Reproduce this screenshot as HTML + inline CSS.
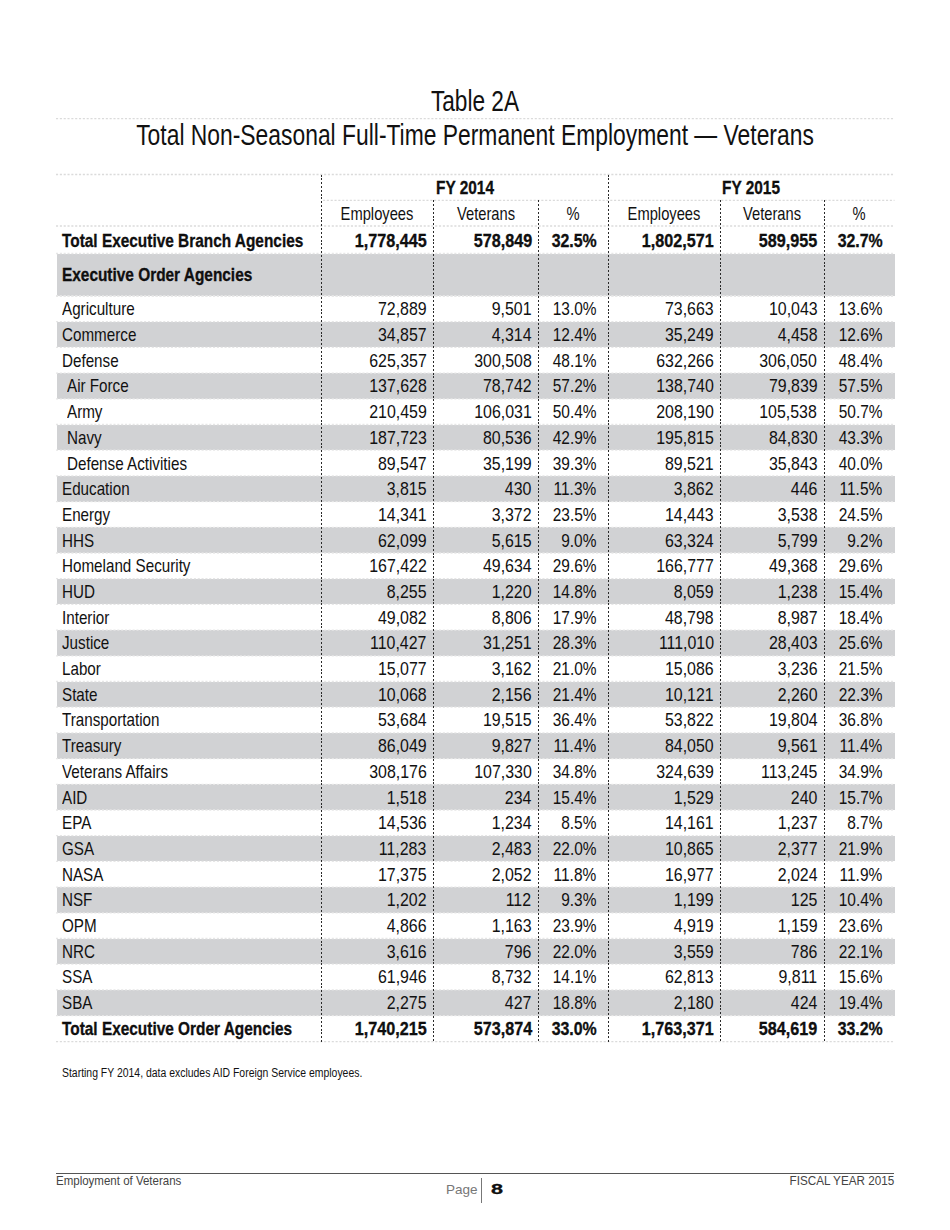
<!DOCTYPE html>
<html><head><meta charset="utf-8"><title>Table 2A</title>
<style>
html,body{margin:0;padding:0;background:#fff;}
body{width:950px;height:1230px;position:relative;overflow:hidden;font-family:"Liberation Sans",sans-serif;color:#111;}
svg{position:absolute;left:0;top:0;}
.t{position:absolute;white-space:nowrap;}
</style></head><body>
<svg width="950" height="1230" viewBox="0 0 950 1230" shape-rendering="crispEdges">
<rect x="56.8" y="253.5" width="837.7" height="42.5" fill="#d1d2d4"/>
<rect x="56.8" y="321.7" width="837.7" height="25.69999999999999" fill="#d1d2d4"/>
<rect x="56.8" y="373.1" width="837.7" height="25.69999999999999" fill="#d1d2d4"/>
<rect x="56.8" y="424.5" width="837.7" height="25.69999999999999" fill="#d1d2d4"/>
<rect x="56.8" y="475.9" width="837.7" height="25.69999999999999" fill="#d1d2d4"/>
<rect x="56.8" y="527.3" width="837.7" height="25.700000000000045" fill="#d1d2d4"/>
<rect x="56.8" y="578.7" width="837.7" height="25.700000000000045" fill="#d1d2d4"/>
<rect x="56.8" y="630.0999999999999" width="837.7" height="25.700000000000045" fill="#d1d2d4"/>
<rect x="56.8" y="681.5" width="837.7" height="25.700000000000045" fill="#d1d2d4"/>
<rect x="56.8" y="732.9" width="837.7" height="25.700000000000045" fill="#d1d2d4"/>
<rect x="56.8" y="784.3" width="837.7" height="25.700000000000045" fill="#d1d2d4"/>
<rect x="56.8" y="835.6999999999999" width="837.7" height="25.700000000000045" fill="#d1d2d4"/>
<rect x="56.8" y="887.1" width="837.7" height="25.700000000000045" fill="#d1d2d4"/>
<rect x="56.8" y="938.5" width="837.7" height="25.700000000000045" fill="#d1d2d4"/>
<rect x="56.8" y="989.9" width="837.7" height="25.700000000000045" fill="#d1d2d4"/>
<line x1="56.0" y1="118.7" x2="894.5" y2="118.7" stroke="#dbdbdb" stroke-width="1.3" stroke-dasharray="2.1 1.73" shape-rendering="geometricPrecision"/>
<line x1="56.0" y1="174.5" x2="894.5" y2="174.5" stroke="#dbdbdb" stroke-width="1.3" stroke-dasharray="2.1 1.73" shape-rendering="geometricPrecision"/>
<line x1="323.0" y1="200.3" x2="894.5" y2="200.3" stroke="#dbdbdb" stroke-width="1.3" stroke-dasharray="2.1 1.73" shape-rendering="geometricPrecision"/>
<line x1="56.0" y1="226.0" x2="894.5" y2="226.0" stroke="#dbdbdb" stroke-width="1.3" stroke-dasharray="2.1 1.73" shape-rendering="geometricPrecision"/>
<line x1="56.0" y1="253.5" x2="894.5" y2="253.5" stroke="#e6e6e6" stroke-width="1.3" stroke-dasharray="2.1 1.73" shape-rendering="geometricPrecision"/>
<line x1="56.0" y1="296.0" x2="894.5" y2="296.0" stroke="#e6e6e6" stroke-width="1.3" stroke-dasharray="2.1 1.73" shape-rendering="geometricPrecision"/>
<line x1="56.0" y1="296.0" x2="894.5" y2="296.0" stroke="#e6e6e6" stroke-width="1.3" stroke-dasharray="2.1 1.73" shape-rendering="geometricPrecision"/>
<line x1="56.0" y1="321.7" x2="894.5" y2="321.7" stroke="#e6e6e6" stroke-width="1.3" stroke-dasharray="2.1 1.73" shape-rendering="geometricPrecision"/>
<line x1="56.0" y1="347.4" x2="894.5" y2="347.4" stroke="#e6e6e6" stroke-width="1.3" stroke-dasharray="2.1 1.73" shape-rendering="geometricPrecision"/>
<line x1="56.0" y1="373.1" x2="894.5" y2="373.1" stroke="#e6e6e6" stroke-width="1.3" stroke-dasharray="2.1 1.73" shape-rendering="geometricPrecision"/>
<line x1="56.0" y1="398.8" x2="894.5" y2="398.8" stroke="#e6e6e6" stroke-width="1.3" stroke-dasharray="2.1 1.73" shape-rendering="geometricPrecision"/>
<line x1="56.0" y1="424.5" x2="894.5" y2="424.5" stroke="#e6e6e6" stroke-width="1.3" stroke-dasharray="2.1 1.73" shape-rendering="geometricPrecision"/>
<line x1="56.0" y1="450.2" x2="894.5" y2="450.2" stroke="#e6e6e6" stroke-width="1.3" stroke-dasharray="2.1 1.73" shape-rendering="geometricPrecision"/>
<line x1="56.0" y1="475.9" x2="894.5" y2="475.9" stroke="#e6e6e6" stroke-width="1.3" stroke-dasharray="2.1 1.73" shape-rendering="geometricPrecision"/>
<line x1="56.0" y1="501.6" x2="894.5" y2="501.6" stroke="#e6e6e6" stroke-width="1.3" stroke-dasharray="2.1 1.73" shape-rendering="geometricPrecision"/>
<line x1="56.0" y1="527.3" x2="894.5" y2="527.3" stroke="#e6e6e6" stroke-width="1.3" stroke-dasharray="2.1 1.73" shape-rendering="geometricPrecision"/>
<line x1="56.0" y1="553.0" x2="894.5" y2="553.0" stroke="#e6e6e6" stroke-width="1.3" stroke-dasharray="2.1 1.73" shape-rendering="geometricPrecision"/>
<line x1="56.0" y1="578.7" x2="894.5" y2="578.7" stroke="#e6e6e6" stroke-width="1.3" stroke-dasharray="2.1 1.73" shape-rendering="geometricPrecision"/>
<line x1="56.0" y1="604.4" x2="894.5" y2="604.4" stroke="#e6e6e6" stroke-width="1.3" stroke-dasharray="2.1 1.73" shape-rendering="geometricPrecision"/>
<line x1="56.0" y1="630.0999999999999" x2="894.5" y2="630.0999999999999" stroke="#e6e6e6" stroke-width="1.3" stroke-dasharray="2.1 1.73" shape-rendering="geometricPrecision"/>
<line x1="56.0" y1="655.8" x2="894.5" y2="655.8" stroke="#e6e6e6" stroke-width="1.3" stroke-dasharray="2.1 1.73" shape-rendering="geometricPrecision"/>
<line x1="56.0" y1="681.5" x2="894.5" y2="681.5" stroke="#e6e6e6" stroke-width="1.3" stroke-dasharray="2.1 1.73" shape-rendering="geometricPrecision"/>
<line x1="56.0" y1="707.2" x2="894.5" y2="707.2" stroke="#e6e6e6" stroke-width="1.3" stroke-dasharray="2.1 1.73" shape-rendering="geometricPrecision"/>
<line x1="56.0" y1="732.9" x2="894.5" y2="732.9" stroke="#e6e6e6" stroke-width="1.3" stroke-dasharray="2.1 1.73" shape-rendering="geometricPrecision"/>
<line x1="56.0" y1="758.5999999999999" x2="894.5" y2="758.5999999999999" stroke="#e6e6e6" stroke-width="1.3" stroke-dasharray="2.1 1.73" shape-rendering="geometricPrecision"/>
<line x1="56.0" y1="784.3" x2="894.5" y2="784.3" stroke="#e6e6e6" stroke-width="1.3" stroke-dasharray="2.1 1.73" shape-rendering="geometricPrecision"/>
<line x1="56.0" y1="810.0" x2="894.5" y2="810.0" stroke="#e6e6e6" stroke-width="1.3" stroke-dasharray="2.1 1.73" shape-rendering="geometricPrecision"/>
<line x1="56.0" y1="835.6999999999999" x2="894.5" y2="835.6999999999999" stroke="#e6e6e6" stroke-width="1.3" stroke-dasharray="2.1 1.73" shape-rendering="geometricPrecision"/>
<line x1="56.0" y1="861.4" x2="894.5" y2="861.4" stroke="#e6e6e6" stroke-width="1.3" stroke-dasharray="2.1 1.73" shape-rendering="geometricPrecision"/>
<line x1="56.0" y1="887.1" x2="894.5" y2="887.1" stroke="#e6e6e6" stroke-width="1.3" stroke-dasharray="2.1 1.73" shape-rendering="geometricPrecision"/>
<line x1="56.0" y1="912.8" x2="894.5" y2="912.8" stroke="#e6e6e6" stroke-width="1.3" stroke-dasharray="2.1 1.73" shape-rendering="geometricPrecision"/>
<line x1="56.0" y1="938.5" x2="894.5" y2="938.5" stroke="#e6e6e6" stroke-width="1.3" stroke-dasharray="2.1 1.73" shape-rendering="geometricPrecision"/>
<line x1="56.0" y1="964.1999999999999" x2="894.5" y2="964.1999999999999" stroke="#e6e6e6" stroke-width="1.3" stroke-dasharray="2.1 1.73" shape-rendering="geometricPrecision"/>
<line x1="56.0" y1="989.9" x2="894.5" y2="989.9" stroke="#e6e6e6" stroke-width="1.3" stroke-dasharray="2.1 1.73" shape-rendering="geometricPrecision"/>
<line x1="56.0" y1="1015.6" x2="894.5" y2="1015.6" stroke="#e6e6e6" stroke-width="1.3" stroke-dasharray="2.1 1.73" shape-rendering="geometricPrecision"/>
<line x1="56.0" y1="1041.7" x2="894.5" y2="1041.7" stroke="#dbdbdb" stroke-width="1.3" stroke-dasharray="2.1 1.73" shape-rendering="geometricPrecision"/>
<line x1="321.5" y1="174.5" x2="321.5" y2="1041.7" stroke="#2a2a2a" stroke-width="1.0" stroke-dasharray="2 1.83"/>
<line x1="433.4" y1="200.3" x2="433.4" y2="1041.7" stroke="#2a2a2a" stroke-width="1.0" stroke-dasharray="2 1.83"/>
<line x1="538.4" y1="200.3" x2="538.4" y2="1041.7" stroke="#2a2a2a" stroke-width="1.0" stroke-dasharray="2 1.83"/>
<line x1="608.4" y1="174.5" x2="608.4" y2="1041.7" stroke="#2a2a2a" stroke-width="1.0" stroke-dasharray="2 1.83"/>
<line x1="720.2" y1="200.3" x2="720.2" y2="1041.7" stroke="#2a2a2a" stroke-width="1.0" stroke-dasharray="2 1.83"/>
<line x1="824.4" y1="200.3" x2="824.4" y2="1041.7" stroke="#2a2a2a" stroke-width="1.0" stroke-dasharray="2 1.83"/>
<line x1="56.0" y1="1173.5" x2="893.8" y2="1173.5" stroke="#555" stroke-width="1"/>
<line x1="481.6" y1="1178" x2="481.6" y2="1202.5" stroke="#777" stroke-width="1"/>
</svg>
<div class="t" style="top:85px;font-size:28.8px;line-height:32px;left:475.35px;transform-origin:0 0;transform:scaleX(0.787) translateX(-50%);">Table 2A</div>
<div class="t" style="top:118px;font-size:30.0px;line-height:33px;left:475.00px;transform-origin:0 0;transform:scaleX(0.762) translateX(-50%);">Total Non-Seasonal Full-Time Permanent Employment — Veterans</div>
<div class="t" style="top:177px;font-size:18.6px;line-height:21px;font-weight:bold;-webkit-text-stroke:0.3px #000;left:464.95px;transform-origin:0 0;transform:scaleX(0.828) translateX(-50%);">FY 2014</div>
<div class="t" style="top:177px;font-size:18.6px;line-height:21px;font-weight:bold;-webkit-text-stroke:0.3px #000;left:751.45px;transform-origin:0 0;transform:scaleX(0.828) translateX(-50%);">FY 2015</div>
<div class="t" style="top:203px;font-size:18.4px;line-height:21px;left:377.45px;transform-origin:0 0;transform:scaleX(0.8) translateX(-50%);">Employees</div>
<div class="t" style="top:203px;font-size:18.4px;line-height:21px;left:485.90px;transform-origin:0 0;transform:scaleX(0.8) translateX(-50%);">Veterans</div>
<div class="t" style="top:203px;font-size:18.4px;line-height:21px;left:573.40px;transform-origin:0 0;transform:scaleX(0.8) translateX(-50%);">%</div>
<div class="t" style="top:203px;font-size:18.4px;line-height:21px;left:664.30px;transform-origin:0 0;transform:scaleX(0.8) translateX(-50%);">Employees</div>
<div class="t" style="top:203px;font-size:18.4px;line-height:21px;left:772.30px;transform-origin:0 0;transform:scaleX(0.8) translateX(-50%);">Veterans</div>
<div class="t" style="top:203px;font-size:18.4px;line-height:21px;left:859.45px;transform-origin:0 0;transform:scaleX(0.8) translateX(-50%);">%</div>
<div class="t" style="top:230px;font-size:18.6px;line-height:21px;font-weight:bold;-webkit-text-stroke:0.3px #000;left:62.00px;transform-origin:0 0;transform:scaleX(0.828);">Total Executive Branch Agencies</div>
<div class="t" style="top:230px;font-size:18.6px;line-height:21px;font-weight:bold;-webkit-text-stroke:0.3px #000;right:523.70px;transform-origin:100% 0;transform:scaleX(0.87);">1,778,445</div>
<div class="t" style="top:230px;font-size:18.6px;line-height:21px;font-weight:bold;-webkit-text-stroke:0.3px #000;right:417.60px;transform-origin:100% 0;transform:scaleX(0.87);">578,849</div>
<div class="t" style="top:230px;font-size:18.6px;line-height:21px;font-weight:bold;-webkit-text-stroke:0.3px #000;right:353.40px;transform-origin:100% 0;transform:scaleX(0.855);">32.5%</div>
<div class="t" style="top:230px;font-size:18.6px;line-height:21px;font-weight:bold;-webkit-text-stroke:0.3px #000;right:236.20px;transform-origin:100% 0;transform:scaleX(0.87);">1,802,571</div>
<div class="t" style="top:230px;font-size:18.6px;line-height:21px;font-weight:bold;-webkit-text-stroke:0.3px #000;right:132.30px;transform-origin:100% 0;transform:scaleX(0.87);">589,955</div>
<div class="t" style="top:230px;font-size:18.6px;line-height:21px;font-weight:bold;-webkit-text-stroke:0.3px #000;right:67.40px;transform-origin:100% 0;transform:scaleX(0.855);">32.7%</div>
<div class="t" style="top:264px;font-size:18.6px;line-height:21px;font-weight:bold;-webkit-text-stroke:0.3px #000;left:62.00px;transform-origin:0 0;transform:scaleX(0.828);">Executive Order Agencies</div>
<div class="t" style="top:299px;font-size:18.2px;line-height:20px;left:62.00px;transform-origin:0 0;transform:scaleX(0.836);">Agriculture</div>
<div class="t" style="top:299px;font-size:18.2px;line-height:20px;right:523.70px;transform-origin:100% 0;transform:scaleX(0.875);">72,889</div>
<div class="t" style="top:299px;font-size:18.2px;line-height:20px;right:418.70px;transform-origin:100% 0;transform:scaleX(0.875);">9,501</div>
<div class="t" style="top:299px;font-size:18.2px;line-height:20px;right:353.40px;transform-origin:100% 0;transform:scaleX(0.85);">13.0%</div>
<div class="t" style="top:299px;font-size:18.2px;line-height:20px;right:236.20px;transform-origin:100% 0;transform:scaleX(0.875);">73,663</div>
<div class="t" style="top:299px;font-size:18.2px;line-height:20px;right:132.80px;transform-origin:100% 0;transform:scaleX(0.875);">10,043</div>
<div class="t" style="top:299px;font-size:18.2px;line-height:20px;right:67.40px;transform-origin:100% 0;transform:scaleX(0.85);">13.6%</div>
<div class="t" style="top:325px;font-size:18.2px;line-height:20px;left:62.00px;transform-origin:0 0;transform:scaleX(0.836);">Commerce</div>
<div class="t" style="top:325px;font-size:18.2px;line-height:20px;right:523.70px;transform-origin:100% 0;transform:scaleX(0.875);">34,857</div>
<div class="t" style="top:325px;font-size:18.2px;line-height:20px;right:418.70px;transform-origin:100% 0;transform:scaleX(0.875);">4,314</div>
<div class="t" style="top:325px;font-size:18.2px;line-height:20px;right:353.40px;transform-origin:100% 0;transform:scaleX(0.85);">12.4%</div>
<div class="t" style="top:325px;font-size:18.2px;line-height:20px;right:236.20px;transform-origin:100% 0;transform:scaleX(0.875);">35,249</div>
<div class="t" style="top:325px;font-size:18.2px;line-height:20px;right:132.80px;transform-origin:100% 0;transform:scaleX(0.875);">4,458</div>
<div class="t" style="top:325px;font-size:18.2px;line-height:20px;right:67.40px;transform-origin:100% 0;transform:scaleX(0.85);">12.6%</div>
<div class="t" style="top:351px;font-size:18.2px;line-height:20px;left:62.00px;transform-origin:0 0;transform:scaleX(0.836);">Defense</div>
<div class="t" style="top:351px;font-size:18.2px;line-height:20px;right:523.70px;transform-origin:100% 0;transform:scaleX(0.875);">625,357</div>
<div class="t" style="top:351px;font-size:18.2px;line-height:20px;right:418.70px;transform-origin:100% 0;transform:scaleX(0.875);">300,508</div>
<div class="t" style="top:351px;font-size:18.2px;line-height:20px;right:353.40px;transform-origin:100% 0;transform:scaleX(0.85);">48.1%</div>
<div class="t" style="top:351px;font-size:18.2px;line-height:20px;right:236.20px;transform-origin:100% 0;transform:scaleX(0.875);">632,266</div>
<div class="t" style="top:351px;font-size:18.2px;line-height:20px;right:132.80px;transform-origin:100% 0;transform:scaleX(0.875);">306,050</div>
<div class="t" style="top:351px;font-size:18.2px;line-height:20px;right:67.40px;transform-origin:100% 0;transform:scaleX(0.85);">48.4%</div>
<div class="t" style="top:376px;font-size:18.2px;line-height:20px;left:66.50px;transform-origin:0 0;transform:scaleX(0.836);">Air Force</div>
<div class="t" style="top:376px;font-size:18.2px;line-height:20px;right:523.70px;transform-origin:100% 0;transform:scaleX(0.875);">137,628</div>
<div class="t" style="top:376px;font-size:18.2px;line-height:20px;right:418.70px;transform-origin:100% 0;transform:scaleX(0.875);">78,742</div>
<div class="t" style="top:376px;font-size:18.2px;line-height:20px;right:353.40px;transform-origin:100% 0;transform:scaleX(0.85);">57.2%</div>
<div class="t" style="top:376px;font-size:18.2px;line-height:20px;right:236.20px;transform-origin:100% 0;transform:scaleX(0.875);">138,740</div>
<div class="t" style="top:376px;font-size:18.2px;line-height:20px;right:132.80px;transform-origin:100% 0;transform:scaleX(0.875);">79,839</div>
<div class="t" style="top:376px;font-size:18.2px;line-height:20px;right:67.40px;transform-origin:100% 0;transform:scaleX(0.85);">57.5%</div>
<div class="t" style="top:402px;font-size:18.2px;line-height:20px;left:66.50px;transform-origin:0 0;transform:scaleX(0.836);">Army</div>
<div class="t" style="top:402px;font-size:18.2px;line-height:20px;right:523.70px;transform-origin:100% 0;transform:scaleX(0.875);">210,459</div>
<div class="t" style="top:402px;font-size:18.2px;line-height:20px;right:418.70px;transform-origin:100% 0;transform:scaleX(0.875);">106,031</div>
<div class="t" style="top:402px;font-size:18.2px;line-height:20px;right:353.40px;transform-origin:100% 0;transform:scaleX(0.85);">50.4%</div>
<div class="t" style="top:402px;font-size:18.2px;line-height:20px;right:236.20px;transform-origin:100% 0;transform:scaleX(0.875);">208,190</div>
<div class="t" style="top:402px;font-size:18.2px;line-height:20px;right:132.80px;transform-origin:100% 0;transform:scaleX(0.875);">105,538</div>
<div class="t" style="top:402px;font-size:18.2px;line-height:20px;right:67.40px;transform-origin:100% 0;transform:scaleX(0.85);">50.7%</div>
<div class="t" style="top:428px;font-size:18.2px;line-height:20px;left:66.50px;transform-origin:0 0;transform:scaleX(0.836);">Navy</div>
<div class="t" style="top:428px;font-size:18.2px;line-height:20px;right:523.70px;transform-origin:100% 0;transform:scaleX(0.875);">187,723</div>
<div class="t" style="top:428px;font-size:18.2px;line-height:20px;right:418.70px;transform-origin:100% 0;transform:scaleX(0.875);">80,536</div>
<div class="t" style="top:428px;font-size:18.2px;line-height:20px;right:353.40px;transform-origin:100% 0;transform:scaleX(0.85);">42.9%</div>
<div class="t" style="top:428px;font-size:18.2px;line-height:20px;right:236.20px;transform-origin:100% 0;transform:scaleX(0.875);">195,815</div>
<div class="t" style="top:428px;font-size:18.2px;line-height:20px;right:132.80px;transform-origin:100% 0;transform:scaleX(0.875);">84,830</div>
<div class="t" style="top:428px;font-size:18.2px;line-height:20px;right:67.40px;transform-origin:100% 0;transform:scaleX(0.85);">43.3%</div>
<div class="t" style="top:454px;font-size:18.2px;line-height:20px;left:66.50px;transform-origin:0 0;transform:scaleX(0.836);">Defense Activities</div>
<div class="t" style="top:454px;font-size:18.2px;line-height:20px;right:523.70px;transform-origin:100% 0;transform:scaleX(0.875);">89,547</div>
<div class="t" style="top:454px;font-size:18.2px;line-height:20px;right:418.70px;transform-origin:100% 0;transform:scaleX(0.875);">35,199</div>
<div class="t" style="top:454px;font-size:18.2px;line-height:20px;right:353.40px;transform-origin:100% 0;transform:scaleX(0.85);">39.3%</div>
<div class="t" style="top:454px;font-size:18.2px;line-height:20px;right:236.20px;transform-origin:100% 0;transform:scaleX(0.875);">89,521</div>
<div class="t" style="top:454px;font-size:18.2px;line-height:20px;right:132.80px;transform-origin:100% 0;transform:scaleX(0.875);">35,843</div>
<div class="t" style="top:454px;font-size:18.2px;line-height:20px;right:67.40px;transform-origin:100% 0;transform:scaleX(0.85);">40.0%</div>
<div class="t" style="top:479px;font-size:18.2px;line-height:20px;left:62.00px;transform-origin:0 0;transform:scaleX(0.836);">Education</div>
<div class="t" style="top:479px;font-size:18.2px;line-height:20px;right:523.70px;transform-origin:100% 0;transform:scaleX(0.875);">3,815</div>
<div class="t" style="top:479px;font-size:18.2px;line-height:20px;right:418.70px;transform-origin:100% 0;transform:scaleX(0.875);">430</div>
<div class="t" style="top:479px;font-size:18.2px;line-height:20px;right:353.40px;transform-origin:100% 0;transform:scaleX(0.85);">11.3%</div>
<div class="t" style="top:479px;font-size:18.2px;line-height:20px;right:236.20px;transform-origin:100% 0;transform:scaleX(0.875);">3,862</div>
<div class="t" style="top:479px;font-size:18.2px;line-height:20px;right:132.80px;transform-origin:100% 0;transform:scaleX(0.875);">446</div>
<div class="t" style="top:479px;font-size:18.2px;line-height:20px;right:67.40px;transform-origin:100% 0;transform:scaleX(0.85);">11.5%</div>
<div class="t" style="top:505px;font-size:18.2px;line-height:20px;left:62.00px;transform-origin:0 0;transform:scaleX(0.836);">Energy</div>
<div class="t" style="top:505px;font-size:18.2px;line-height:20px;right:523.70px;transform-origin:100% 0;transform:scaleX(0.875);">14,341</div>
<div class="t" style="top:505px;font-size:18.2px;line-height:20px;right:418.70px;transform-origin:100% 0;transform:scaleX(0.875);">3,372</div>
<div class="t" style="top:505px;font-size:18.2px;line-height:20px;right:353.40px;transform-origin:100% 0;transform:scaleX(0.85);">23.5%</div>
<div class="t" style="top:505px;font-size:18.2px;line-height:20px;right:236.20px;transform-origin:100% 0;transform:scaleX(0.875);">14,443</div>
<div class="t" style="top:505px;font-size:18.2px;line-height:20px;right:132.80px;transform-origin:100% 0;transform:scaleX(0.875);">3,538</div>
<div class="t" style="top:505px;font-size:18.2px;line-height:20px;right:67.40px;transform-origin:100% 0;transform:scaleX(0.85);">24.5%</div>
<div class="t" style="top:531px;font-size:18.2px;line-height:20px;left:62.00px;transform-origin:0 0;transform:scaleX(0.836);">HHS</div>
<div class="t" style="top:531px;font-size:18.2px;line-height:20px;right:523.70px;transform-origin:100% 0;transform:scaleX(0.875);">62,099</div>
<div class="t" style="top:531px;font-size:18.2px;line-height:20px;right:418.70px;transform-origin:100% 0;transform:scaleX(0.875);">5,615</div>
<div class="t" style="top:531px;font-size:18.2px;line-height:20px;right:353.40px;transform-origin:100% 0;transform:scaleX(0.85);">9.0%</div>
<div class="t" style="top:531px;font-size:18.2px;line-height:20px;right:236.20px;transform-origin:100% 0;transform:scaleX(0.875);">63,324</div>
<div class="t" style="top:531px;font-size:18.2px;line-height:20px;right:132.80px;transform-origin:100% 0;transform:scaleX(0.875);">5,799</div>
<div class="t" style="top:531px;font-size:18.2px;line-height:20px;right:67.40px;transform-origin:100% 0;transform:scaleX(0.85);">9.2%</div>
<div class="t" style="top:556px;font-size:18.2px;line-height:20px;left:62.00px;transform-origin:0 0;transform:scaleX(0.836);">Homeland Security</div>
<div class="t" style="top:556px;font-size:18.2px;line-height:20px;right:523.70px;transform-origin:100% 0;transform:scaleX(0.875);">167,422</div>
<div class="t" style="top:556px;font-size:18.2px;line-height:20px;right:418.70px;transform-origin:100% 0;transform:scaleX(0.875);">49,634</div>
<div class="t" style="top:556px;font-size:18.2px;line-height:20px;right:353.40px;transform-origin:100% 0;transform:scaleX(0.85);">29.6%</div>
<div class="t" style="top:556px;font-size:18.2px;line-height:20px;right:236.20px;transform-origin:100% 0;transform:scaleX(0.875);">166,777</div>
<div class="t" style="top:556px;font-size:18.2px;line-height:20px;right:132.80px;transform-origin:100% 0;transform:scaleX(0.875);">49,368</div>
<div class="t" style="top:556px;font-size:18.2px;line-height:20px;right:67.40px;transform-origin:100% 0;transform:scaleX(0.85);">29.6%</div>
<div class="t" style="top:582px;font-size:18.2px;line-height:20px;left:62.00px;transform-origin:0 0;transform:scaleX(0.836);">HUD</div>
<div class="t" style="top:582px;font-size:18.2px;line-height:20px;right:523.70px;transform-origin:100% 0;transform:scaleX(0.875);">8,255</div>
<div class="t" style="top:582px;font-size:18.2px;line-height:20px;right:418.70px;transform-origin:100% 0;transform:scaleX(0.875);">1,220</div>
<div class="t" style="top:582px;font-size:18.2px;line-height:20px;right:353.40px;transform-origin:100% 0;transform:scaleX(0.85);">14.8%</div>
<div class="t" style="top:582px;font-size:18.2px;line-height:20px;right:236.20px;transform-origin:100% 0;transform:scaleX(0.875);">8,059</div>
<div class="t" style="top:582px;font-size:18.2px;line-height:20px;right:132.80px;transform-origin:100% 0;transform:scaleX(0.875);">1,238</div>
<div class="t" style="top:582px;font-size:18.2px;line-height:20px;right:67.40px;transform-origin:100% 0;transform:scaleX(0.85);">15.4%</div>
<div class="t" style="top:608px;font-size:18.2px;line-height:20px;left:62.00px;transform-origin:0 0;transform:scaleX(0.836);">Interior</div>
<div class="t" style="top:608px;font-size:18.2px;line-height:20px;right:523.70px;transform-origin:100% 0;transform:scaleX(0.875);">49,082</div>
<div class="t" style="top:608px;font-size:18.2px;line-height:20px;right:418.70px;transform-origin:100% 0;transform:scaleX(0.875);">8,806</div>
<div class="t" style="top:608px;font-size:18.2px;line-height:20px;right:353.40px;transform-origin:100% 0;transform:scaleX(0.85);">17.9%</div>
<div class="t" style="top:608px;font-size:18.2px;line-height:20px;right:236.20px;transform-origin:100% 0;transform:scaleX(0.875);">48,798</div>
<div class="t" style="top:608px;font-size:18.2px;line-height:20px;right:132.80px;transform-origin:100% 0;transform:scaleX(0.875);">8,987</div>
<div class="t" style="top:608px;font-size:18.2px;line-height:20px;right:67.40px;transform-origin:100% 0;transform:scaleX(0.85);">18.4%</div>
<div class="t" style="top:633px;font-size:18.2px;line-height:20px;left:62.00px;transform-origin:0 0;transform:scaleX(0.836);">Justice</div>
<div class="t" style="top:633px;font-size:18.2px;line-height:20px;right:523.70px;transform-origin:100% 0;transform:scaleX(0.875);">110,427</div>
<div class="t" style="top:633px;font-size:18.2px;line-height:20px;right:418.70px;transform-origin:100% 0;transform:scaleX(0.875);">31,251</div>
<div class="t" style="top:633px;font-size:18.2px;line-height:20px;right:353.40px;transform-origin:100% 0;transform:scaleX(0.85);">28.3%</div>
<div class="t" style="top:633px;font-size:18.2px;line-height:20px;right:236.20px;transform-origin:100% 0;transform:scaleX(0.875);">111,010</div>
<div class="t" style="top:633px;font-size:18.2px;line-height:20px;right:132.80px;transform-origin:100% 0;transform:scaleX(0.875);">28,403</div>
<div class="t" style="top:633px;font-size:18.2px;line-height:20px;right:67.40px;transform-origin:100% 0;transform:scaleX(0.85);">25.6%</div>
<div class="t" style="top:659px;font-size:18.2px;line-height:20px;left:62.00px;transform-origin:0 0;transform:scaleX(0.836);">Labor</div>
<div class="t" style="top:659px;font-size:18.2px;line-height:20px;right:523.70px;transform-origin:100% 0;transform:scaleX(0.875);">15,077</div>
<div class="t" style="top:659px;font-size:18.2px;line-height:20px;right:418.70px;transform-origin:100% 0;transform:scaleX(0.875);">3,162</div>
<div class="t" style="top:659px;font-size:18.2px;line-height:20px;right:353.40px;transform-origin:100% 0;transform:scaleX(0.85);">21.0%</div>
<div class="t" style="top:659px;font-size:18.2px;line-height:20px;right:236.20px;transform-origin:100% 0;transform:scaleX(0.875);">15,086</div>
<div class="t" style="top:659px;font-size:18.2px;line-height:20px;right:132.80px;transform-origin:100% 0;transform:scaleX(0.875);">3,236</div>
<div class="t" style="top:659px;font-size:18.2px;line-height:20px;right:67.40px;transform-origin:100% 0;transform:scaleX(0.85);">21.5%</div>
<div class="t" style="top:685px;font-size:18.2px;line-height:20px;left:62.00px;transform-origin:0 0;transform:scaleX(0.836);">State</div>
<div class="t" style="top:685px;font-size:18.2px;line-height:20px;right:523.70px;transform-origin:100% 0;transform:scaleX(0.875);">10,068</div>
<div class="t" style="top:685px;font-size:18.2px;line-height:20px;right:418.70px;transform-origin:100% 0;transform:scaleX(0.875);">2,156</div>
<div class="t" style="top:685px;font-size:18.2px;line-height:20px;right:353.40px;transform-origin:100% 0;transform:scaleX(0.85);">21.4%</div>
<div class="t" style="top:685px;font-size:18.2px;line-height:20px;right:236.20px;transform-origin:100% 0;transform:scaleX(0.875);">10,121</div>
<div class="t" style="top:685px;font-size:18.2px;line-height:20px;right:132.80px;transform-origin:100% 0;transform:scaleX(0.875);">2,260</div>
<div class="t" style="top:685px;font-size:18.2px;line-height:20px;right:67.40px;transform-origin:100% 0;transform:scaleX(0.85);">22.3%</div>
<div class="t" style="top:710px;font-size:18.2px;line-height:20px;left:62.00px;transform-origin:0 0;transform:scaleX(0.836);">Transportation</div>
<div class="t" style="top:710px;font-size:18.2px;line-height:20px;right:523.70px;transform-origin:100% 0;transform:scaleX(0.875);">53,684</div>
<div class="t" style="top:710px;font-size:18.2px;line-height:20px;right:418.70px;transform-origin:100% 0;transform:scaleX(0.875);">19,515</div>
<div class="t" style="top:710px;font-size:18.2px;line-height:20px;right:353.40px;transform-origin:100% 0;transform:scaleX(0.85);">36.4%</div>
<div class="t" style="top:710px;font-size:18.2px;line-height:20px;right:236.20px;transform-origin:100% 0;transform:scaleX(0.875);">53,822</div>
<div class="t" style="top:710px;font-size:18.2px;line-height:20px;right:132.80px;transform-origin:100% 0;transform:scaleX(0.875);">19,804</div>
<div class="t" style="top:710px;font-size:18.2px;line-height:20px;right:67.40px;transform-origin:100% 0;transform:scaleX(0.85);">36.8%</div>
<div class="t" style="top:736px;font-size:18.2px;line-height:20px;left:62.00px;transform-origin:0 0;transform:scaleX(0.836);">Treasury</div>
<div class="t" style="top:736px;font-size:18.2px;line-height:20px;right:523.70px;transform-origin:100% 0;transform:scaleX(0.875);">86,049</div>
<div class="t" style="top:736px;font-size:18.2px;line-height:20px;right:418.70px;transform-origin:100% 0;transform:scaleX(0.875);">9,827</div>
<div class="t" style="top:736px;font-size:18.2px;line-height:20px;right:353.40px;transform-origin:100% 0;transform:scaleX(0.85);">11.4%</div>
<div class="t" style="top:736px;font-size:18.2px;line-height:20px;right:236.20px;transform-origin:100% 0;transform:scaleX(0.875);">84,050</div>
<div class="t" style="top:736px;font-size:18.2px;line-height:20px;right:132.80px;transform-origin:100% 0;transform:scaleX(0.875);">9,561</div>
<div class="t" style="top:736px;font-size:18.2px;line-height:20px;right:67.40px;transform-origin:100% 0;transform:scaleX(0.85);">11.4%</div>
<div class="t" style="top:762px;font-size:18.2px;line-height:20px;left:62.00px;transform-origin:0 0;transform:scaleX(0.836);">Veterans Affairs</div>
<div class="t" style="top:762px;font-size:18.2px;line-height:20px;right:523.70px;transform-origin:100% 0;transform:scaleX(0.875);">308,176</div>
<div class="t" style="top:762px;font-size:18.2px;line-height:20px;right:418.70px;transform-origin:100% 0;transform:scaleX(0.875);">107,330</div>
<div class="t" style="top:762px;font-size:18.2px;line-height:20px;right:353.40px;transform-origin:100% 0;transform:scaleX(0.85);">34.8%</div>
<div class="t" style="top:762px;font-size:18.2px;line-height:20px;right:236.20px;transform-origin:100% 0;transform:scaleX(0.875);">324,639</div>
<div class="t" style="top:762px;font-size:18.2px;line-height:20px;right:132.80px;transform-origin:100% 0;transform:scaleX(0.875);">113,245</div>
<div class="t" style="top:762px;font-size:18.2px;line-height:20px;right:67.40px;transform-origin:100% 0;transform:scaleX(0.85);">34.9%</div>
<div class="t" style="top:788px;font-size:18.2px;line-height:20px;left:62.00px;transform-origin:0 0;transform:scaleX(0.836);">AID</div>
<div class="t" style="top:788px;font-size:18.2px;line-height:20px;right:523.70px;transform-origin:100% 0;transform:scaleX(0.875);">1,518</div>
<div class="t" style="top:788px;font-size:18.2px;line-height:20px;right:418.70px;transform-origin:100% 0;transform:scaleX(0.875);">234</div>
<div class="t" style="top:788px;font-size:18.2px;line-height:20px;right:353.40px;transform-origin:100% 0;transform:scaleX(0.85);">15.4%</div>
<div class="t" style="top:788px;font-size:18.2px;line-height:20px;right:236.20px;transform-origin:100% 0;transform:scaleX(0.875);">1,529</div>
<div class="t" style="top:788px;font-size:18.2px;line-height:20px;right:132.80px;transform-origin:100% 0;transform:scaleX(0.875);">240</div>
<div class="t" style="top:788px;font-size:18.2px;line-height:20px;right:67.40px;transform-origin:100% 0;transform:scaleX(0.85);">15.7%</div>
<div class="t" style="top:813px;font-size:18.2px;line-height:20px;left:62.00px;transform-origin:0 0;transform:scaleX(0.836);">EPA</div>
<div class="t" style="top:813px;font-size:18.2px;line-height:20px;right:523.70px;transform-origin:100% 0;transform:scaleX(0.875);">14,536</div>
<div class="t" style="top:813px;font-size:18.2px;line-height:20px;right:418.70px;transform-origin:100% 0;transform:scaleX(0.875);">1,234</div>
<div class="t" style="top:813px;font-size:18.2px;line-height:20px;right:353.40px;transform-origin:100% 0;transform:scaleX(0.85);">8.5%</div>
<div class="t" style="top:813px;font-size:18.2px;line-height:20px;right:236.20px;transform-origin:100% 0;transform:scaleX(0.875);">14,161</div>
<div class="t" style="top:813px;font-size:18.2px;line-height:20px;right:132.80px;transform-origin:100% 0;transform:scaleX(0.875);">1,237</div>
<div class="t" style="top:813px;font-size:18.2px;line-height:20px;right:67.40px;transform-origin:100% 0;transform:scaleX(0.85);">8.7%</div>
<div class="t" style="top:839px;font-size:18.2px;line-height:20px;left:62.00px;transform-origin:0 0;transform:scaleX(0.836);">GSA</div>
<div class="t" style="top:839px;font-size:18.2px;line-height:20px;right:523.70px;transform-origin:100% 0;transform:scaleX(0.875);">11,283</div>
<div class="t" style="top:839px;font-size:18.2px;line-height:20px;right:418.70px;transform-origin:100% 0;transform:scaleX(0.875);">2,483</div>
<div class="t" style="top:839px;font-size:18.2px;line-height:20px;right:353.40px;transform-origin:100% 0;transform:scaleX(0.85);">22.0%</div>
<div class="t" style="top:839px;font-size:18.2px;line-height:20px;right:236.20px;transform-origin:100% 0;transform:scaleX(0.875);">10,865</div>
<div class="t" style="top:839px;font-size:18.2px;line-height:20px;right:132.80px;transform-origin:100% 0;transform:scaleX(0.875);">2,377</div>
<div class="t" style="top:839px;font-size:18.2px;line-height:20px;right:67.40px;transform-origin:100% 0;transform:scaleX(0.85);">21.9%</div>
<div class="t" style="top:865px;font-size:18.2px;line-height:20px;left:62.00px;transform-origin:0 0;transform:scaleX(0.836);">NASA</div>
<div class="t" style="top:865px;font-size:18.2px;line-height:20px;right:523.70px;transform-origin:100% 0;transform:scaleX(0.875);">17,375</div>
<div class="t" style="top:865px;font-size:18.2px;line-height:20px;right:418.70px;transform-origin:100% 0;transform:scaleX(0.875);">2,052</div>
<div class="t" style="top:865px;font-size:18.2px;line-height:20px;right:353.40px;transform-origin:100% 0;transform:scaleX(0.85);">11.8%</div>
<div class="t" style="top:865px;font-size:18.2px;line-height:20px;right:236.20px;transform-origin:100% 0;transform:scaleX(0.875);">16,977</div>
<div class="t" style="top:865px;font-size:18.2px;line-height:20px;right:132.80px;transform-origin:100% 0;transform:scaleX(0.875);">2,024</div>
<div class="t" style="top:865px;font-size:18.2px;line-height:20px;right:67.40px;transform-origin:100% 0;transform:scaleX(0.85);">11.9%</div>
<div class="t" style="top:890px;font-size:18.2px;line-height:20px;left:62.00px;transform-origin:0 0;transform:scaleX(0.836);">NSF</div>
<div class="t" style="top:890px;font-size:18.2px;line-height:20px;right:523.70px;transform-origin:100% 0;transform:scaleX(0.875);">1,202</div>
<div class="t" style="top:890px;font-size:18.2px;line-height:20px;right:418.70px;transform-origin:100% 0;transform:scaleX(0.875);">112</div>
<div class="t" style="top:890px;font-size:18.2px;line-height:20px;right:353.40px;transform-origin:100% 0;transform:scaleX(0.85);">9.3%</div>
<div class="t" style="top:890px;font-size:18.2px;line-height:20px;right:236.20px;transform-origin:100% 0;transform:scaleX(0.875);">1,199</div>
<div class="t" style="top:890px;font-size:18.2px;line-height:20px;right:132.80px;transform-origin:100% 0;transform:scaleX(0.875);">125</div>
<div class="t" style="top:890px;font-size:18.2px;line-height:20px;right:67.40px;transform-origin:100% 0;transform:scaleX(0.85);">10.4%</div>
<div class="t" style="top:916px;font-size:18.2px;line-height:20px;left:62.00px;transform-origin:0 0;transform:scaleX(0.836);">OPM</div>
<div class="t" style="top:916px;font-size:18.2px;line-height:20px;right:523.70px;transform-origin:100% 0;transform:scaleX(0.875);">4,866</div>
<div class="t" style="top:916px;font-size:18.2px;line-height:20px;right:418.70px;transform-origin:100% 0;transform:scaleX(0.875);">1,163</div>
<div class="t" style="top:916px;font-size:18.2px;line-height:20px;right:353.40px;transform-origin:100% 0;transform:scaleX(0.85);">23.9%</div>
<div class="t" style="top:916px;font-size:18.2px;line-height:20px;right:236.20px;transform-origin:100% 0;transform:scaleX(0.875);">4,919</div>
<div class="t" style="top:916px;font-size:18.2px;line-height:20px;right:132.80px;transform-origin:100% 0;transform:scaleX(0.875);">1,159</div>
<div class="t" style="top:916px;font-size:18.2px;line-height:20px;right:67.40px;transform-origin:100% 0;transform:scaleX(0.85);">23.6%</div>
<div class="t" style="top:942px;font-size:18.2px;line-height:20px;left:62.00px;transform-origin:0 0;transform:scaleX(0.836);">NRC</div>
<div class="t" style="top:942px;font-size:18.2px;line-height:20px;right:523.70px;transform-origin:100% 0;transform:scaleX(0.875);">3,616</div>
<div class="t" style="top:942px;font-size:18.2px;line-height:20px;right:418.70px;transform-origin:100% 0;transform:scaleX(0.875);">796</div>
<div class="t" style="top:942px;font-size:18.2px;line-height:20px;right:353.40px;transform-origin:100% 0;transform:scaleX(0.85);">22.0%</div>
<div class="t" style="top:942px;font-size:18.2px;line-height:20px;right:236.20px;transform-origin:100% 0;transform:scaleX(0.875);">3,559</div>
<div class="t" style="top:942px;font-size:18.2px;line-height:20px;right:132.80px;transform-origin:100% 0;transform:scaleX(0.875);">786</div>
<div class="t" style="top:942px;font-size:18.2px;line-height:20px;right:67.40px;transform-origin:100% 0;transform:scaleX(0.85);">22.1%</div>
<div class="t" style="top:967px;font-size:18.2px;line-height:20px;left:62.00px;transform-origin:0 0;transform:scaleX(0.836);">SSA</div>
<div class="t" style="top:967px;font-size:18.2px;line-height:20px;right:523.70px;transform-origin:100% 0;transform:scaleX(0.875);">61,946</div>
<div class="t" style="top:967px;font-size:18.2px;line-height:20px;right:418.70px;transform-origin:100% 0;transform:scaleX(0.875);">8,732</div>
<div class="t" style="top:967px;font-size:18.2px;line-height:20px;right:353.40px;transform-origin:100% 0;transform:scaleX(0.85);">14.1%</div>
<div class="t" style="top:967px;font-size:18.2px;line-height:20px;right:236.20px;transform-origin:100% 0;transform:scaleX(0.875);">62,813</div>
<div class="t" style="top:967px;font-size:18.2px;line-height:20px;right:132.80px;transform-origin:100% 0;transform:scaleX(0.875);">9,811</div>
<div class="t" style="top:967px;font-size:18.2px;line-height:20px;right:67.40px;transform-origin:100% 0;transform:scaleX(0.85);">15.6%</div>
<div class="t" style="top:993px;font-size:18.2px;line-height:20px;left:62.00px;transform-origin:0 0;transform:scaleX(0.836);">SBA</div>
<div class="t" style="top:993px;font-size:18.2px;line-height:20px;right:523.70px;transform-origin:100% 0;transform:scaleX(0.875);">2,275</div>
<div class="t" style="top:993px;font-size:18.2px;line-height:20px;right:418.70px;transform-origin:100% 0;transform:scaleX(0.875);">427</div>
<div class="t" style="top:993px;font-size:18.2px;line-height:20px;right:353.40px;transform-origin:100% 0;transform:scaleX(0.85);">18.8%</div>
<div class="t" style="top:993px;font-size:18.2px;line-height:20px;right:236.20px;transform-origin:100% 0;transform:scaleX(0.875);">2,180</div>
<div class="t" style="top:993px;font-size:18.2px;line-height:20px;right:132.80px;transform-origin:100% 0;transform:scaleX(0.875);">424</div>
<div class="t" style="top:993px;font-size:18.2px;line-height:20px;right:67.40px;transform-origin:100% 0;transform:scaleX(0.85);">19.4%</div>
<div class="t" style="top:1018px;font-size:18.6px;line-height:21px;font-weight:bold;-webkit-text-stroke:0.3px #000;left:62.00px;transform-origin:0 0;transform:scaleX(0.828);">Total Executive Order Agencies</div>
<div class="t" style="top:1018px;font-size:18.6px;line-height:21px;font-weight:bold;-webkit-text-stroke:0.3px #000;right:523.70px;transform-origin:100% 0;transform:scaleX(0.87);">1,740,215</div>
<div class="t" style="top:1018px;font-size:18.6px;line-height:21px;font-weight:bold;-webkit-text-stroke:0.3px #000;right:417.60px;transform-origin:100% 0;transform:scaleX(0.87);">573,874</div>
<div class="t" style="top:1018px;font-size:18.6px;line-height:21px;font-weight:bold;-webkit-text-stroke:0.3px #000;right:353.40px;transform-origin:100% 0;transform:scaleX(0.855);">33.0%</div>
<div class="t" style="top:1018px;font-size:18.6px;line-height:21px;font-weight:bold;-webkit-text-stroke:0.3px #000;right:236.20px;transform-origin:100% 0;transform:scaleX(0.87);">1,763,371</div>
<div class="t" style="top:1018px;font-size:18.6px;line-height:21px;font-weight:bold;-webkit-text-stroke:0.3px #000;right:132.30px;transform-origin:100% 0;transform:scaleX(0.87);">584,619</div>
<div class="t" style="top:1018px;font-size:18.6px;line-height:21px;font-weight:bold;-webkit-text-stroke:0.3px #000;right:67.40px;transform-origin:100% 0;transform:scaleX(0.855);">33.2%</div>
<div class="t" style="top:1066px;font-size:12.5px;line-height:14px;left:62.00px;transform-origin:0 0;transform:scaleX(0.835);">Starting FY 2014, data excludes AID Foreign Service employees.</div>
<div class="t" style="top:1174px;font-size:12.2px;line-height:14px;color:#444;left:55.60px;transform-origin:0 0;transform:scaleX(0.944);">Employment of Veterans</div>
<div class="t" style="top:1174px;font-size:12.1px;line-height:14px;color:#444;right:55.90px;transform-origin:100% 0;transform:scaleX(0.967);">FISCAL YEAR 2015</div>
<div class="t" style="top:1182px;font-size:13px;line-height:15px;color:#777;left:446.30px;transform-origin:0 0;transform:scaleX(1.04);">Page</div>
<div class="t" style="top:1180px;font-size:15.2px;line-height:17px;font-weight:bold;-webkit-text-stroke:0.3px #000;left:491.40px;transform-origin:0 0;transform:scaleX(1.42);">8</div>
</body></html>
